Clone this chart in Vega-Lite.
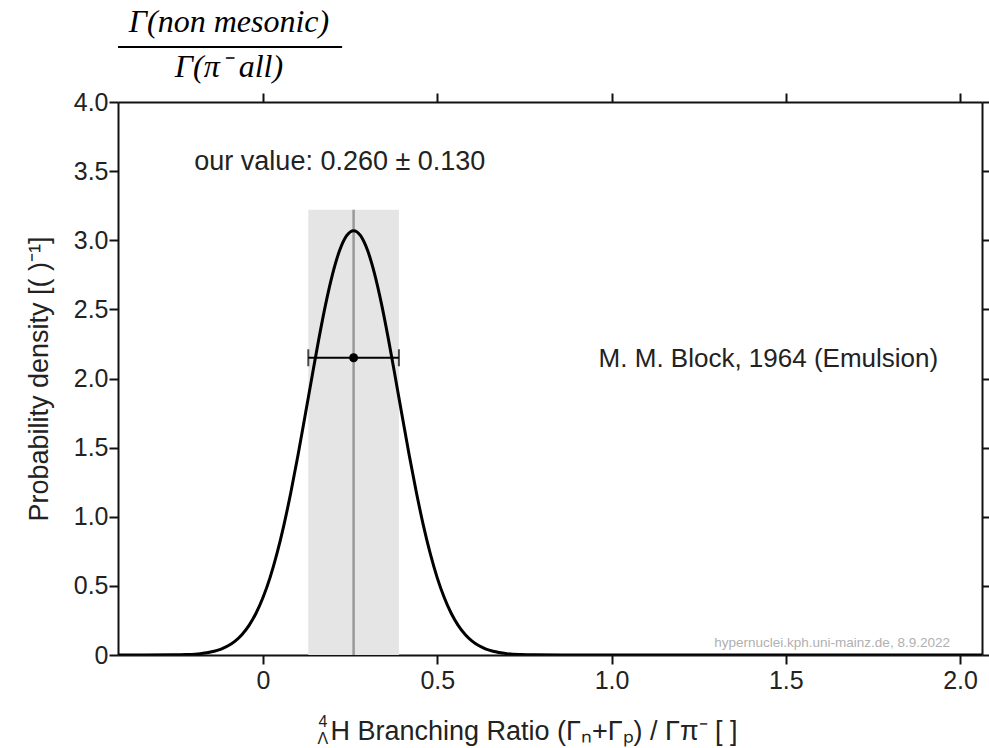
{
  "$schema": "https://vega.github.io/schema/vega-lite/v6.json",
  "width": 864,
  "height": 553,
  "autosize": {"type": "none"},
  "padding": {"left": 118, "top": 102, "right": 7, "bottom": 93},
  "background": "white",
  "config": {
    "view": {"stroke": null},
    "font": "Liberation Sans",
    "axis": {
      "grid": false,
      "domainColor": "#111",
      "domainWidth": 2,
      "tickColor": "#111",
      "tickWidth": 2,
      "tickSize": 9,
      "labelFont": "Liberation Sans",
      "labelFontSize": 25,
      "labelColor": "#222",
      "titleFont": "Liberation Sans",
      "titleFontSize": 27,
      "titleFontWeight": "normal",
      "titleColor": "#222"
    }
  },
  "datasets": {
    "curve": [
      {"x": -0.42, "y": 0.0},
      {"x": -0.34, "y": 0.0001},
      {"x": -0.26, "y": 0.001},
      {"x": -0.22, "y": 0.0034},
      {"x": -0.18, "y": 0.01},
      {"x": -0.14, "y": 0.027},
      {"x": -0.12, "y": 0.0428},
      {"x": -0.10, "y": 0.0664},
      {"x": -0.08, "y": 0.1004},
      {"x": -0.06, "y": 0.1484},
      {"x": -0.04, "y": 0.2141},
      {"x": -0.02, "y": 0.3017},
      {"x": 0.00, "y": 0.4154},
      {"x": 0.02, "y": 0.558},
      {"x": 0.04, "y": 0.733},
      {"x": 0.06, "y": 0.940},
      {"x": 0.08, "y": 1.177},
      {"x": 0.10, "y": 1.439},
      {"x": 0.12, "y": 1.719},
      {"x": 0.14, "y": 2.004},
      {"x": 0.16, "y": 2.283},
      {"x": 0.18, "y": 2.540},
      {"x": 0.20, "y": 2.759},
      {"x": 0.22, "y": 2.927},
      {"x": 0.24, "y": 3.033},
      {"x": 0.26, "y": 3.069},
      {"x": 0.28, "y": 3.033},
      {"x": 0.30, "y": 2.927},
      {"x": 0.32, "y": 2.759},
      {"x": 0.34, "y": 2.540},
      {"x": 0.36, "y": 2.283},
      {"x": 0.38, "y": 2.004},
      {"x": 0.40, "y": 1.719},
      {"x": 0.42, "y": 1.439},
      {"x": 0.44, "y": 1.177},
      {"x": 0.46, "y": 0.940},
      {"x": 0.48, "y": 0.733},
      {"x": 0.50, "y": 0.558},
      {"x": 0.52, "y": 0.4154},
      {"x": 0.54, "y": 0.3017},
      {"x": 0.56, "y": 0.2141},
      {"x": 0.58, "y": 0.1484},
      {"x": 0.60, "y": 0.1004},
      {"x": 0.62, "y": 0.0664},
      {"x": 0.64, "y": 0.0428},
      {"x": 0.66, "y": 0.027},
      {"x": 0.70, "y": 0.01},
      {"x": 0.74, "y": 0.0034},
      {"x": 0.78, "y": 0.001},
      {"x": 0.86, "y": 0.0001},
      {"x": 0.94, "y": 0.0},
      {"x": 2.07, "y": 0.0}
    ],
    "measurement": [
      {"value": 0.26, "lo": 0.13, "hi": 0.39, "level": 2.15, "base": 0, "bandTop": 3.22, "label": "M. M. Block, 1964 (Emulsion)"}
    ]
  },
  "layer": [
    {
      "data": {"name": "measurement"},
      "mark": {"type": "rect", "color": "#e5e5e5"},
      "encoding": {
        "x": {"field": "lo", "type": "quantitative",
              "scale": {"domain": [-0.416, 2.063], "nice": false, "zero": false},
              "axis": {"orient": "bottom", "values": [0, 0.5, 1, 1.5, 2], "labelExpr": "datum.value == 0 ? '0' : format(datum.value, '.1f')",
                       "labelPadding": 4,
                       "title": "H Branching Ratio (Γₙ+Γₚ) / Γπ⁻ [ ]",
                       "titleAnchor": "start", "titleAlign": "left", "titleX": 212, "titleY": 84, "titleBaseline": "alphabetic"}},
        "x2": {"field": "hi"},
        "y": {"field": "base", "type": "quantitative",
              "scale": {"domain": [0, 4], "nice": false},
              "axis": {"orient": "left", "values": [0, 0.5, 1, 1.5, 2, 2.5, 3, 3.5, 4], "labelExpr": "datum.value == 0 ? '0' : format(datum.value, '.1f')",
                       "labelPadding": 1,
                       "title": "Probability density [( )⁻¹]", "titlePadding": 20}},
        "y2": {"field": "bandTop"}
      }
    },
    {
      "data": {"name": "measurement"},
      "mark": {"type": "rule", "color": "#999999", "strokeWidth": 2.5},
      "encoding": {
        "x": {"field": "value", "type": "quantitative",
              "axis": {"orient": "top", "values": [0, 0.5, 1, 1.5, 2], "labels": false, "title": null}},
        "y": {"field": "base", "type": "quantitative",
              "axis": {"orient": "right", "values": [0, 0.5, 1, 1.5, 2, 2.5, 3, 3.5, 4], "labels": false, "title": null}},
        "y2": {"field": "bandTop"}
      }
    },
    {
      "data": {"name": "curve"},
      "mark": {"type": "line", "color": "#000", "strokeWidth": 3, "interpolate": "monotone", "clip": true},
      "encoding": {
        "x": {"field": "x", "type": "quantitative", "axis": null},
        "y": {"field": "y", "type": "quantitative", "axis": null}
      }
    },
    {
      "data": {"name": "measurement"},
      "mark": {"type": "rule", "color": "#000", "strokeWidth": 2},
      "encoding": {
        "x": {"field": "lo", "type": "quantitative", "axis": null},
        "x2": {"field": "hi"},
        "y": {"field": "level", "type": "quantitative", "axis": null}
      }
    },
    {
      "data": {"name": "measurement"},
      "mark": {"type": "tick", "orient": "vertical", "color": "#000", "size": 17, "thickness": 2},
      "encoding": {
        "x": {"field": "lo", "type": "quantitative", "axis": null},
        "y": {"field": "level", "type": "quantitative", "axis": null}
      }
    },
    {
      "data": {"name": "measurement"},
      "mark": {"type": "tick", "orient": "vertical", "color": "#000", "size": 17, "thickness": 2},
      "encoding": {
        "x": {"field": "hi", "type": "quantitative", "axis": null},
        "y": {"field": "level", "type": "quantitative", "axis": null}
      }
    },
    {
      "data": {"name": "measurement"},
      "mark": {"type": "point", "filled": true, "color": "#000", "size": 80, "opacity": 1},
      "encoding": {
        "x": {"field": "value", "type": "quantitative", "axis": null},
        "y": {"field": "level", "type": "quantitative", "axis": null}
      }
    },
    {
      "data": {"name": "measurement"},
      "mark": {"type": "text", "align": "left", "baseline": "alphabetic", "fontSize": 26, "color": "#222", "font": "Liberation Sans"},
      "encoding": {
        "x": {"datum": 0.963, "type": "quantitative", "axis": null},
        "y": {"datum": 2.084, "type": "quantitative", "axis": null},
        "text": {"field": "label"}
      }
    },
    {
      "data": {"name": "measurement"},
      "mark": {"type": "text", "align": "left", "baseline": "alphabetic", "fontSize": 27, "color": "#222", "font": "Liberation Sans"},
      "encoding": {
        "x": {"datum": -0.197, "type": "quantitative", "axis": null},
        "y": {"datum": 3.509, "type": "quantitative", "axis": null},
        "text": {"value": "our value: 0.260 ± 0.130"}
      }
    },
    {
      "data": {"name": "measurement"},
      "mark": {"type": "text", "align": "right", "baseline": "alphabetic", "fontSize": 13.5, "color": "#b0b0b0", "font": "Liberation Sans"},
      "encoding": {
        "x": {"datum": 1.971, "type": "quantitative", "axis": null},
        "y": {"datum": 0.058, "type": "quantitative", "axis": null},
        "text": {"value": "hypernuclei.kph.uni-mainz.de, 8.9.2022"}
      }
    },
    {
      "data": {"name": "measurement"},
      "mark": {"type": "text", "align": "center", "baseline": "alphabetic", "fontSize": 32, "fontStyle": "italic", "color": "#000", "font": "Liberation Serif", "clip": false},
      "encoding": {
        "x": {"datum": -0.0976, "type": "quantitative", "axis": null},
        "y": {"datum": 4.507, "type": "quantitative", "axis": null},
        "text": {"value": "Γ(non mesonic)"}
      }
    },
    {
      "data": {"name": "measurement"},
      "mark": {"type": "text", "align": "center", "baseline": "alphabetic", "fontSize": 32, "fontStyle": "italic", "color": "#000", "font": "Liberation Serif", "clip": false},
      "encoding": {
        "x": {"datum": -0.0976, "type": "quantitative", "axis": null},
        "y": {"datum": 4.181, "type": "quantitative", "axis": null},
        "text": {"value": "Γ(π⁻\u00a0all)"}
      }
    },
    {
      "data": {"name": "measurement"},
      "mark": {"type": "rule", "color": "#000", "strokeWidth": 2, "clip": false},
      "encoding": {
        "x": {"datum": -0.416, "type": "quantitative", "axis": null},
        "x2": {"datum": 0.227},
        "y": {"datum": 4.398, "type": "quantitative", "axis": null}
      }
    },
    {
      "data": {"name": "measurement"},
      "mark": {"type": "text", "align": "center", "baseline": "alphabetic", "fontSize": 16, "color": "#222", "font": "Liberation Sans", "clip": false},
      "encoding": {
        "x": {"datum": 0.172, "type": "quantitative", "axis": null},
        "y": {"datum": -0.521, "type": "quantitative", "axis": null},
        "text": {"value": "4"}
      }
    },
    {
      "data": {"name": "measurement"},
      "mark": {"type": "text", "align": "center", "baseline": "alphabetic", "fontSize": 16, "color": "#222", "font": "Liberation Sans", "clip": false},
      "encoding": {
        "x": {"datum": 0.172, "type": "quantitative", "axis": null},
        "y": {"datum": -0.645, "type": "quantitative", "axis": null},
        "text": {"value": "Λ"}
      }
    }
  ],
  "resolve": {"axis": {"x": "independent", "y": "independent"}}
}
